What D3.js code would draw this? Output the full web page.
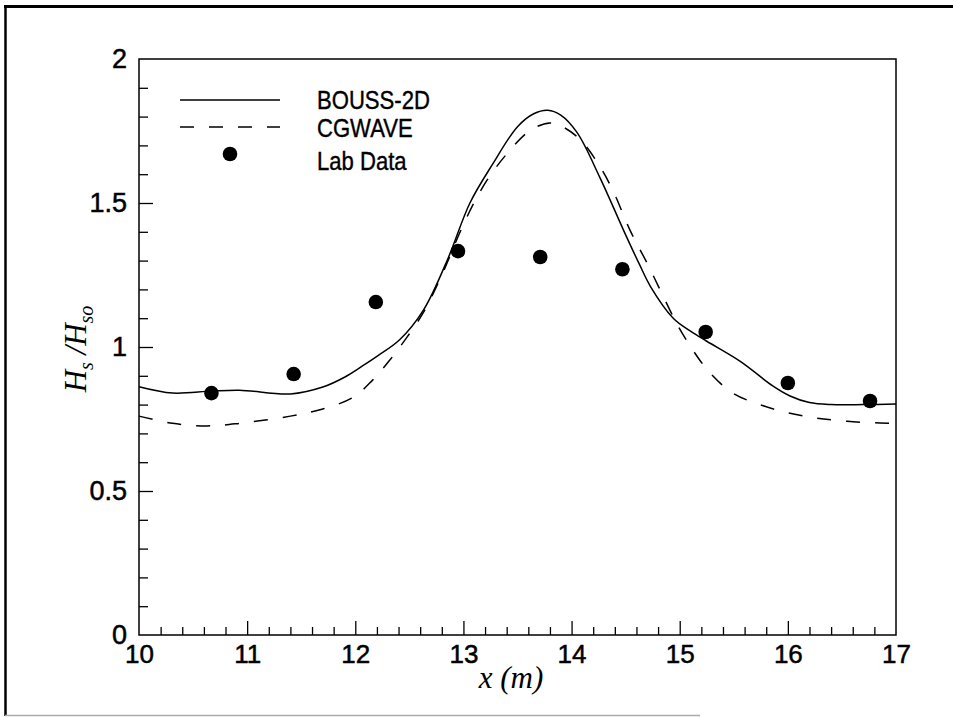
<!DOCTYPE html>
<html><head><meta charset="utf-8">
<script src="https://cdn.jsdelivr.net/npm/d3@7"></script>
<style>html,body{margin:0;padding:0;background:#fff;}svg{display:block;}</style>
</head><body>
<script>
// ---- data ----
const boussX = [10.0, 10.31, 10.67, 10.93, 11.40, 11.70, 11.90, 12.07, 12.21, 12.41, 12.63, 12.86, 13.06, 13.27, 13.50, 13.65, 13.78, 13.90, 14.05, 14.26, 14.48, 14.63, 14.73, 14.94, 15.10, 15.25, 15.56, 15.86, 16.02, 16.20, 16.40, 16.70, 17.0];
const boussY = [0.862, 0.840, 0.847, 0.850, 0.837, 0.861, 0.895, 0.935, 0.970, 1.025, 1.128, 1.31, 1.50, 1.635, 1.765, 1.81, 1.822, 1.805, 1.745, 1.59, 1.406, 1.285, 1.21, 1.10, 1.055, 1.02, 0.95, 0.865, 0.83, 0.807, 0.800, 0.800, 0.802];
const cgwaveX = [10.0, 10.31, 10.63, 10.93, 11.40, 11.70, 11.98, 12.16, 12.32, 12.48, 12.63, 12.80, 12.97, 13.09, 13.22, 13.40, 13.62, 13.80, 13.92, 14.08, 14.24, 14.38, 14.54, 14.70, 14.85, 14.98, 15.12, 15.28, 15.49, 15.74, 16.02, 16.27, 16.55, 16.85, 17.0];
const cgwaveY = [0.76, 0.735, 0.726, 0.735, 0.76, 0.785, 0.825, 0.885, 0.955, 1.035, 1.12, 1.25, 1.40, 1.495, 1.58, 1.67, 1.753, 1.778, 1.764, 1.72, 1.64, 1.545, 1.406, 1.29, 1.174, 1.076, 0.99, 0.91, 0.84, 0.80, 0.77, 0.753, 0.742, 0.736, 0.735];
const labX = [10.67, 11.43, 12.19, 12.95, 13.71, 14.47, 15.24, 16.0, 16.76];
const labY = [0.840, 0.906, 1.156, 1.333, 1.3125, 1.27, 1.052, 0.875, 0.8125];
const xTicks = [10, 11, 12, 13, 14, 15, 16, 17];
const yTicks = [0, 0.5, 1, 1.5, 2];
const legendLabels = ["BOUSS-2D", "CGWAVE", "Lab Data"];

const W = 953, H = 717;
const L = 139, R = 896, T = 59, B = 635;
const svg = d3.select("body").append("svg").attr("width", W).attr("height", H);

// outer frame
svg.append("line").attr("x1", 4).attr("x2", W).attr("y1", 6.5).attr("y2", 6.5).attr("stroke", "#000").attr("stroke-width", 3);
svg.append("line").attr("x1", 5.5).attr("x2", 5.5).attr("y1", 5).attr("y2", 716).attr("stroke", "#000").attr("stroke-width", 2.5);
svg.append("line").attr("x1", 5).attr("x2", 700).attr("y1", 715.5).attr("y2", 715.5).attr("stroke", "#aaa").attr("stroke-width", 1.5);

const x = d3.scaleLinear().domain([10, 17]).range([L, R]);
const y = d3.scaleLinear().domain([0, 2]).range([B, T]);

// plot box
svg.append("rect").attr("x", L).attr("y", T).attr("width", R - L).attr("height", B - T)
  .attr("fill", "none").attr("stroke", "#000").attr("stroke-width", 1.5);

const sans = "Liberation Sans, Arial, Helvetica, sans-serif";

// x axis ticks (inside)
const xMinor = d3.range(10, 17.001, 0.2).filter(v => Math.abs(v - Math.round(v)) > 0.01);
const gx = svg.append("g").attr("transform", `translate(0,${B})`);
gx.call(d3.axisTop(x).tickValues(xMinor).tickSize(8).tickFormat(""));
gx.call(g => g.append("g").call(d3.axisTop(x).tickValues(xTicks.slice(1, -1)).tickSize(14).tickFormat("")));
gx.selectAll(".domain").remove();
gx.selectAll("line").attr("stroke", "#000").attr("stroke-width", 1.3);

const gxl = svg.append("g").attr("transform", `translate(0,${B})`)
  .call(d3.axisBottom(x).tickValues(xTicks).tickSize(0).tickPadding(0).tickFormat(d => d));
gxl.selectAll(".domain").remove();
gxl.selectAll("text").attr("dy", null).attr("y", 28).attr("font-family", sans)
  .attr("font-size", 26).attr("fill", "#000").attr("stroke", "#000").attr("stroke-width", 0.5);

// y axis ticks (inside)
const yMinor = d3.range(0, 2.001, 0.1).filter(v => Math.abs(v * 2 - Math.round(v * 2)) > 0.01);
const gy = svg.append("g").attr("transform", `translate(${L},0)`);
gy.call(d3.axisRight(y).tickValues(yMinor).tickSize(9).tickFormat(""));
gy.call(g => g.append("g").call(d3.axisRight(y).tickValues(yTicks.slice(1, -1)).tickSize(14).tickFormat("")));
gy.selectAll(".domain").remove();
gy.selectAll("line").attr("stroke", "#000").attr("stroke-width", 1.3);

const gyl = svg.append("g").attr("transform", `translate(${L},0)`)
  .call(d3.axisLeft(y).tickValues(yTicks).tickSize(0).tickPadding(12).tickFormat(d => d));
gyl.selectAll(".domain").remove();
gyl.selectAll("text").attr("font-family", sans)
  .attr("font-size", 27).attr("fill", "#000").attr("stroke", "#000").attr("stroke-width", 0.5);

// curves
const bouss = boussX.map((v, i) => [v, boussY[i]]);
const cg = cgwaveX.map((v, i) => [v, cgwaveY[i]]);
const line = d3.line().x(d => x(d[0])).y(d => y(d[1])).curve(d3.curveCatmullRom.alpha(0.5));
svg.append("path").attr("d", line(bouss)).attr("fill", "none").attr("stroke", "#000").attr("stroke-width", 1.5);
svg.append("path").attr("d", line(cg)).attr("fill", "none").attr("stroke", "#000").attr("stroke-width", 1.5)
  .attr("stroke-dasharray", "14,15");

// lab data
svg.append("g").selectAll("circle").data(labX.map((v, i) => [v, labY[i]])).join("circle")
  .attr("cx", d => x(d[0])).attr("cy", d => y(d[1])).attr("r", 7.3).attr("fill", "#000");

// legend
const lg = svg.append("g");
lg.append("line").attr("x1", 180).attr("x2", 280).attr("y1", 100).attr("y2", 100).attr("stroke", "#000").attr("stroke-width", 1.5);
lg.append("line").attr("x1", 180).attr("x2", 280).attr("y1", 127).attr("y2", 127).attr("stroke", "#000").attr("stroke-width", 1.5)
  .attr("stroke-dasharray", "14,15");
lg.append("circle").attr("cx", 230).attr("cy", 154).attr("r", 7.3).attr("fill", "#000");
const ly = [109, 137, 170];
legendLabels.forEach((t, i) => {
  lg.append("text").attr("x", 317).attr("y", ly[i]).text(t)
    .attr("font-family", sans).attr("font-size", 26)
    .attr("stroke", "#000").attr("stroke-width", 0.4)
    .attr("transform", `translate(${317 * 0.15},0) scale(0.85,1)`).attr("fill", "#000");
});

// axis titles
const serif = "Liberation Serif, Times New Roman, serif";
const xt = svg.append("text").attr("x", 511).attr("y", 688).attr("text-anchor", "middle")
  .attr("font-family", serif).attr("font-style", "italic").attr("font-size", 31).attr("fill", "#000");
xt.text("x (m)");

const yt = svg.append("text").attr("transform", "translate(86,349) rotate(-90)").attr("text-anchor", "middle")
  .attr("font-family", serif).attr("font-style", "italic").attr("font-size", 31).attr("fill", "#000");
yt.append("tspan").text("H");
yt.append("tspan").attr("font-size", 20).attr("dy", 7).text("s");
yt.append("tspan").attr("dy", -7).text(" /H");
yt.append("tspan").attr("font-size", 20).attr("dy", 7).text("so");
</script>
</body></html>
